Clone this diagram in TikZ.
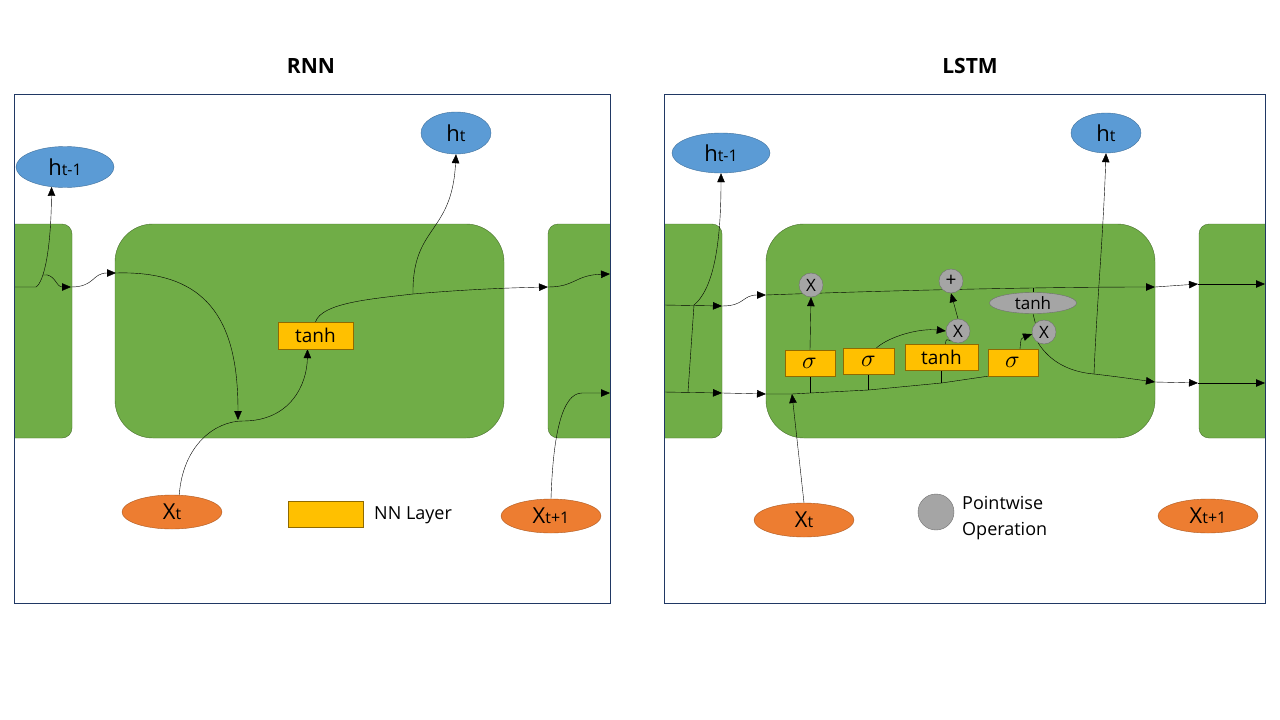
\documentclass[tikz,border=0pt]{standalone}
\usepackage{unicode-math, xcolor}
\setmainfont{Open Sans}
\usetikzlibrary{arrows.meta, shapes.geometric}

\definecolor{cellgreen}{HTML}{70AD47}
\definecolor{cellline}{HTML}{48702C}
\definecolor{hblue}{HTML}{5B9BD5}
\definecolor{hline}{HTML}{41719C}
\definecolor{xorange}{HTML}{ED7D31}
\definecolor{xline}{HTML}{AE5A21}
\definecolor{nnyellow}{HTML}{FFC000}
\definecolor{nnline}{HTML}{8F6A00}
\definecolor{opgray}{HTML}{A5A5A5}
\definecolor{opline}{HTML}{6F6F6F}
\definecolor{framenavy}{HTML}{203864}

\pgfdeclarelayer{paper}
\pgfdeclarelayer{cells}
\pgfdeclarelayer{edges}
\pgfsetlayers{paper,cells,edges,main}

\newcommand{\stlabel}[2]{{\fontsize{22}{24}\selectfont #1}{\fontsize{16}{18}\selectfont #2}}

\tikzset{
  cellbox/.style={draw=cellline, fill=cellgreen},
  hstate/.style={ellipse, draw=hline, fill=hblue, inner sep=0pt},
  xinput/.style={ellipse, draw=xline, fill=xorange, inner sep=0pt, minimum width=100pt, minimum height=34pt},
  nnlayer/.style={rectangle, draw=nnline, fill=nnyellow, inner sep=0pt, minimum height=26pt},
  sigmabox/.style={nnlayer, minimum width=50pt, font=\fontsize{24}{26}\selectfont},
  pointop/.style={circle, draw=opline, fill=opgray, inner sep=0pt, minimum size=24pt, font=\fontsize{17}{19}\selectfont},
  arr/.style={-{Triangle[length=9pt, width=7.5pt]}},
  frame/.style={draw=framenavy},
}

\begin{document}
\begin{tikzpicture}[x=1pt, y=1pt, yscale=-1, xscale=1, line width=1pt]
\begin{pgfonlayer}{paper}
\fill [white] (0, 0) rectangle (1280, 720);
\end{pgfonlayer}
\useasboundingbox (0, 0) rectangle (1280, 720);

%Cells
\begin{pgfonlayer}{cells}
\begin{scope}
\clip (14, 94) rectangle (610, 603);
\draw [cellbox, rounded corners=10pt] (-20, 224) rectangle (72, 438);
\draw [cellbox, rounded corners=38pt] (115, 224) rectangle (504, 438);
\draw [cellbox, rounded corners=10pt] (548, 224) rectangle (650, 438);
\end{scope}
\begin{scope}
\clip (664, 94) rectangle (1265, 603);
\draw [cellbox, rounded corners=10pt] (630, 224) rectangle (722, 438);
\draw [cellbox, rounded corners=38pt] (766, 224) rectangle (1155, 438);
\draw [cellbox, rounded corners=10pt] (1199, 224) rectangle (1300, 438);
\end{scope}
\end{pgfonlayer}
\draw [frame] (14, 94) rectangle (610, 603);
\draw [frame] (664, 94) rectangle (1265, 603);

%Text
\draw (311, 66) node (rnntitle) [font=\fontsize{21}{24}\selectfont\bfseries] {RNN};
\draw (970, 66) node (lstmtitle) [font=\fontsize{21}{24}\selectfont\bfseries] {LSTM};

%RNN
\draw (65, 167) node (rhprev) [hstate][minimum width=98pt, minimum height=41pt] {\stlabel{h}{t-1}};
\draw (456, 133) node (rht) [hstate][minimum width=70pt, minimum height=42pt] {\stlabel{h}{t}};
\draw (172, 512) node (rxt) [xinput] {\stlabel{X}{t}};
\draw (551, 516) node (rxnext) [xinput] {\stlabel{X}{t+1}};
\draw (315.5, 335.5) node (rtanh) [nnlayer][minimum width=75pt, minimum height=27pt, font=\fontsize{19}{21}\selectfont] {tanh};
\draw (325.5, 514) node (nnkey) [nnlayer][minimum width=75pt] {};
\draw (374, 515) node (nntext) [anchor=west][inner sep=0pt][font=\fontsize{18}{20}\selectfont] {NN Layer};

\coordinate (rin0) at (14, 287);
\coordinate (rj0) at (36, 287);
\coordinate (rj1) at (43, 275);
\coordinate (rc1) at (71, 287);
\coordinate (rin) at (116, 273);
\coordinate (rmerge) at (238, 420);
\coordinate (rmid) at (243, 421);
\coordinate (rsplit) at (413, 294);
\coordinate (rout) at (548, 287);
\coordinate (rn1) at (610, 274);
\coordinate (rcorner) at (582, 393);
\coordinate (rn2) at (610, 393);

%LSTM
\draw (721, 153) node (lhprev) [hstate][minimum width=98pt, minimum height=40pt] {\stlabel{h}{t-1}};
\draw (1106, 133) node (lht) [hstate][minimum width=70pt, minimum height=40pt] {\stlabel{h}{t}};
\draw (804, 520) node (lxt) [xinput] {\stlabel{X}{t}};
\draw (1208, 516) node (lxnext) [xinput] {\stlabel{X}{t+1}};
\draw (810, 363) node (ls1) [sigmabox] {$\sigma$};
\draw (868.5, 361) node (ls2) [sigmabox][minimum width=51pt] {$\sigma$};
\draw (941.5, 357) node (ltanh) [nnlayer][minimum width=73pt, font=\fontsize{19}{21}\selectfont] {tanh};
\draw (1013, 362.5) node (ls3) [sigmabox][minimum height=27pt] {$\sigma$};
\draw (811, 285) node (lmul1) [pointop] {X};
\draw (951, 281) node (ladd) [pointop][font=\fontsize{19}{21}\selectfont] {+};
\draw (958, 331) node (lmul2) [pointop] {X};
\draw (1044, 332) node (lmul3) [pointop] {X};
\draw (1033, 303) node (ltanh2) [ellipse][draw=opline, fill=opgray, inner sep=0pt][minimum width=87pt, minimum height=21pt, font=\fontsize{17}{19}\selectfont] {tanh};
\draw (936, 512) node (opkey) [pointop][minimum size=36pt] {};
\draw (962, 518) node (optext) [anchor=west][inner sep=0pt][align=left][font=\fontsize{18}{26}\selectfont] {Pointwise\\Operation};

\coordinate (lin1) at (664, 305);
\coordinate (lin2) at (664, 392);
\coordinate (lj1) at (694, 305);
\coordinate (lj2) at (688, 392);
\coordinate (lc1) at (722, 306);
\coordinate (lh1) at (722, 393);
\coordinate (lcin) at (766, 295);
\coordinate (lhin) at (766, 394);
\coordinate (ljx) at (792, 394);
\coordinate (lj3) at (810, 393);
\coordinate (lj4) at (868.5, 390);
\coordinate (lj5) at (941.5, 383);
\coordinate (lct) at (1033, 288);
\coordinate (lcout) at (1155, 287);
\coordinate (lsplit) at (1094, 374);
\coordinate (lhout) at (1155, 382);
\coordinate (lnc1) at (1198, 284);
\coordinate (lnc2) at (1265, 284);
\coordinate (lnh1) at (1198, 383);
\coordinate (lnh2) at (1265, 383);

\begin{pgfonlayer}{edges}
%RNN lines
\draw [arr] (rin0) -- (rj0) .. controls (44, 282) and (51, 250) .. (rhprev.236);
\draw [arr] (rj1) .. controls (55, 273) and (56, 287) .. (rc1);
\draw [arr] (rc1) .. controls (95, 287) and (92, 273) .. (rin);
\draw [arr] (rin) .. controls (215, 270) and (238, 330) .. (rmerge);
\draw [arr] (rxt.67) .. controls (183, 445) and (215, 421) .. (rmid) .. controls (290, 421) and (307, 385) .. ([xshift=-8pt]rtanh.south);
\draw [arr] (rtanh.north) .. controls (322, 303) and (370, 299) .. (rsplit) .. controls (460, 290) and (500, 288) .. (rout);
\draw [arr] (rsplit) .. controls (412, 225) and (452, 235) .. (rht.south);
\draw [arr] (rout) .. controls (575, 287) and (575, 275) .. (rn1);
\draw [arr] (rxnext.north) .. controls (553, 435) and (562, 393) .. (rcorner) -- (rn2);
%LSTM lines
\draw [arr] (lin1) -- (lc1);
\draw [arr] (lin2) -- (lh1);
\draw (lj1) -- (lj2);
\draw [arr] (lj1) .. controls (712, 290) and (721, 250) .. (lhprev.south);
\draw [arr] (lc1) .. controls (745, 306) and (742, 295) .. (lcin);
\draw [arr] (lh1) -- (lhin);
\draw [arr] (lcin) .. controls (900, 290) and (1050, 287) .. (lcout);
\draw (lhin) -- (ljx) -- (lj3) -- (lj4) -- (lj5) -- (ls3.south west);
\draw [arr] (lxt.north) -- (ljx);
\draw (lj3) -- (ls1.south);
\draw [arr] (ls1.north) -- (lmul1.south);
\draw (lj4) -- (ls2.south);
\draw [arr] ([xshift=8pt]ls2.north) .. controls (890, 336) and (920, 328) .. (lmul2.west);
\draw (lj5) -- (ltanh.south);
\draw ([xshift=4pt]ltanh.north) .. controls (946, 339) .. (lmul2.235);
\draw [arr] (lmul2.north) -- (ladd.south);
\draw [arr] ([xshift=7pt]ls3.north) .. controls (1021, 338) .. (lmul3.190);
\draw (lct) -- (ltanh2.north);
\draw (ltanh2.south) -- (lmul3.north west);
\draw (lmul3.240) .. controls (1050, 362) and (1070, 372) .. (lsplit);
\draw [arr] (lsplit) .. controls (1120, 377) and (1140, 380) .. (lhout);
\draw [arr] (lsplit) .. controls (1097, 300) and (1103, 240) .. (lht.south);
\draw [arr] (lcout) -- (lnc1);
\draw [arr] (lnc1) -- (lnc2);
\draw [arr] (lhout) -- (lnh1);
\draw [arr] (lnh1) -- (lnh2);
\end{pgfonlayer}
\end{tikzpicture}
\end{document}
